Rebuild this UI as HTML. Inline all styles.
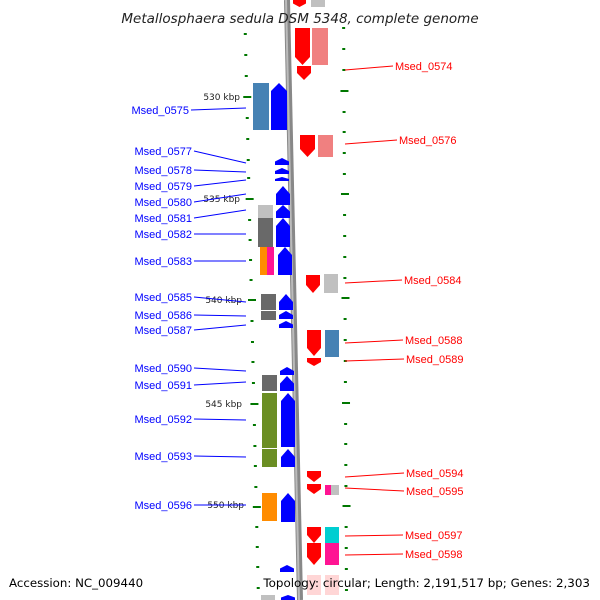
<!DOCTYPE html>
<html><head><meta charset="utf-8"><style>
body{margin:0;background:#fff}
svg{display:block;font-family:"DejaVu Sans","Liberation Sans",sans-serif}
</style></head><body>
<svg id="map" width="600" height="600" viewBox="0 0 600 600">
<path d="M287,0 Q293,300 300,600" stroke="#888" stroke-width="6" fill="none"/>
<path d="M286,0 Q292,300 299,600" stroke="#bbb" stroke-width="2" fill="none"/>
<g id="ticks"></g>
<g id="genes"></g>
<g id="labels"></g>
<text x="300" y="23" text-anchor="middle" font-size="13.5" font-style="italic" fill="#222">Metallosphaera sedula DSM 5348, complete genome</text>
<text x="9" y="587" font-size="11.8" fill="#000">Accession: NC_009440</text>
<text x="590" y="587" text-anchor="end" font-size="11.9" fill="#000">Topology: circular; Length: 2,191,517 bp; Genes: 2,303</text>
</svg>
<script>
const geneX=[293,295,312,297,271,253,300,318,275,275,275,276,258,276,258,276,260,267,278,306,324,261,261,279,279,279,307,307,325,262,280,280,262,262,281,281,307,307,325,331,262,281,307,307,325,325,280,307,325,261,281,311];
const geneY1=[0,28,28,66,83,83,135,135,158,168,177,186,205,205,218,218,247,247,247,275,274,294,311,294,311,321,330,358,330,375,367,376,393,449,393,449,471,484,485,485,493,493,527,543,527,543,565,575,575,595,595,0];
const geneY2=[7,65,65,80,130,130,157,157,165,174,181,205,218,218,247,247,275,275,275,293,293,310,320,310,319,328,356,366,357,391,375,391,448,467,447,467,482,494,495,495,521,522,543,565,543,565,572,595,595,600,600,7];
const geneW=[13,15,16,14,16,16,15,15,14,14,14,14,15,14,15,14,7,7,14,14,14,15,15,14,14,14,14,14,14,15,14,14,15,15,14,14,14,14,6,8,15,14,14,14,14,14,14,14,14,14,14,14];
const geneC=["#f00","#f00","#f08080","#f00","#00f","#4682b4","#f00","#f08080","#00f","#00f","#00f","#00f","#c0c0c0","#00f","#696969","#00f","#ff8c00","#ff1493","#00f","#f00","#c0c0c0","#696969","#696969","#00f","#00f","#00f","#f00","#f00","#4682b4","#696969","#00f","#00f","#6b8e23","#6b8e23","#00f","#00f","#f00","#f00","#ff1493","#c0c0c0","#ff8c00","#00f","#f00","#f00","#00ced1","#ff1493","#00f","#fcc","#fcc","#c0c0c0","#00f","#c0c0c0"];
const geneD=[-1,-1,0,-1,1,0,-1,0,1,1,1,1,0,1,0,1,0,0,1,-1,0,0,0,1,1,1,-1,-1,0,0,1,1,0,0,1,1,-1,-1,0,0,0,1,-1,-1,0,0,1,0,0,0,1,0];
const NS="http://www.w3.org/2000/svg";
const gg=document.getElementById('genes');
for(let i=0;i<geneX.length;i++){
  const x=geneX[i],a=geneY1[i],b=geneY2[i],w=geneW[i],d=geneD[i];
  const h=Math.min(8,(b-a)/2);let pts;
  if(d===1) pts=`${x},${a+h} ${x+w/2},${a} ${x+w},${a+h} ${x+w},${b} ${x},${b}`;
  else if(d===-1) pts=`${x},${a} ${x+w},${a} ${x+w},${b-h} ${x+w/2},${b} ${x},${b-h}`;
  else pts=`${x},${a} ${x+w},${a} ${x+w},${b} ${x},${b}`;
  const p=document.createElementNS(NS,'polygon');
  p.setAttribute('points',pts);p.setAttribute('fill',geneC[i]);
  if(geneC[i]==='#fcc')p.setAttribute('opacity','0.8');
  
  
  gg.appendChild(p);
}
const tg=document.getElementById('ticks');
const leftTickY=[34,55,76,97,118,139,160,178,199,220,240,260,280,300,321,342,362,383,404,425,446,466,487,507,527,547,567,588];
const rightTickY=[28,49,70,91,112,132,153,174,194,215,236,257,278,298,319,340,361,382,403,424,444,465,486,506,527,548,569,590];
const leftMajor=[97,199,300,404,507];const rightMajor=[91,194,298,403,506];
leftTickY.forEach(y=>{const x=243+(y/600)*14,m=leftMajor.includes(y);
  const r=document.createElementNS(NS,'rect');r.setAttribute('x',m?x-2:x);r.setAttribute('y',y-1);r.setAttribute('width',m?8:3);r.setAttribute('height',2);r.setAttribute('fill','#070');
  
  
  tg.appendChild(r);});
rightTickY.forEach(y=>{const x=342+(y/600)*3,m=rightMajor.includes(y);
  const r=document.createElementNS(NS,'rect');r.setAttribute('x',m?x-2:x);r.setAttribute('y',y-1);r.setAttribute('width',m?8:3);r.setAttribute('height',2);r.setAttribute('fill','#070');
  
  
  tg.appendChild(r);});
const kbpText=["530 kbp","535 kbp","540 kbp","545 kbp","550 kbp"];
const kbpY=[97,199,300,404,505];const kbpX=[240,240,242,242,244];
const lg=document.getElementById('labels');
kbpText.forEach((t,i)=>{const e=document.createElementNS(NS,'text');e.textContent=t;e.setAttribute('x',kbpX[i]);e.setAttribute('y',kbpY[i]+3);e.setAttribute('text-anchor','end');e.setAttribute('font-size','9');e.setAttribute('fill','#222');
  
  
  lg.appendChild(e);});
const leftNames=["Msed_0575","Msed_0577","Msed_0578","Msed_0579","Msed_0580","Msed_0581","Msed_0582","Msed_0583","Msed_0585","Msed_0586","Msed_0587","Msed_0590","Msed_0591","Msed_0592","Msed_0593","Msed_0596"];
const leftY=[110,151,170,186,202,218,234,261,297,315,330,368,385,419,456,505];
const leftTY=[108,163,172,180,194,210,234,261,302,316,325,371,382,420,457,505];
const rightNames=["Msed_0574","Msed_0576","Msed_0584","Msed_0588","Msed_0589","Msed_0594","Msed_0595","Msed_0597","Msed_0598"];
const rightY=[66,140,280,340,359,473,491,535,554];
const rightTY=[70,144,283,343,361,477,488,536,555];
leftNames.forEach((n,i)=>{
  const l=document.createElementNS(NS,'line');l.setAttribute('x1',i===0?191:194);l.setAttribute('y1',leftY[i]);l.setAttribute('x2',246);l.setAttribute('y2',leftTY[i]);l.setAttribute('stroke','#00f');
  
  
  lg.appendChild(l);
  const e=document.createElementNS(NS,'text');e.textContent=n;e.setAttribute('x',i===0?189:192);e.setAttribute('y',leftY[i]+4);e.setAttribute('text-anchor','end');e.setAttribute('font-size','11');e.setAttribute('font-family','Liberation Sans, sans-serif');e.setAttribute('fill','#00f');
  
  
  lg.appendChild(e);});
rightNames.forEach((n,i)=>{
  const x0=[395,399,404,405,406,406,406,405,405][i];
  const l=document.createElementNS(NS,'line');l.setAttribute('x1',345);l.setAttribute('y1',rightTY[i]);l.setAttribute('x2',x0-2);l.setAttribute('y2',rightY[i]);l.setAttribute('stroke','#f00');
  
  
  lg.appendChild(l);
  const e=document.createElementNS(NS,'text');e.textContent=n;e.setAttribute('x',x0);e.setAttribute('y',rightY[i]+4);e.setAttribute('font-size','11');e.setAttribute('font-family','Liberation Sans, sans-serif');e.setAttribute('fill','#f00');
  
  
  lg.appendChild(e);});
</script>
</body></html>
